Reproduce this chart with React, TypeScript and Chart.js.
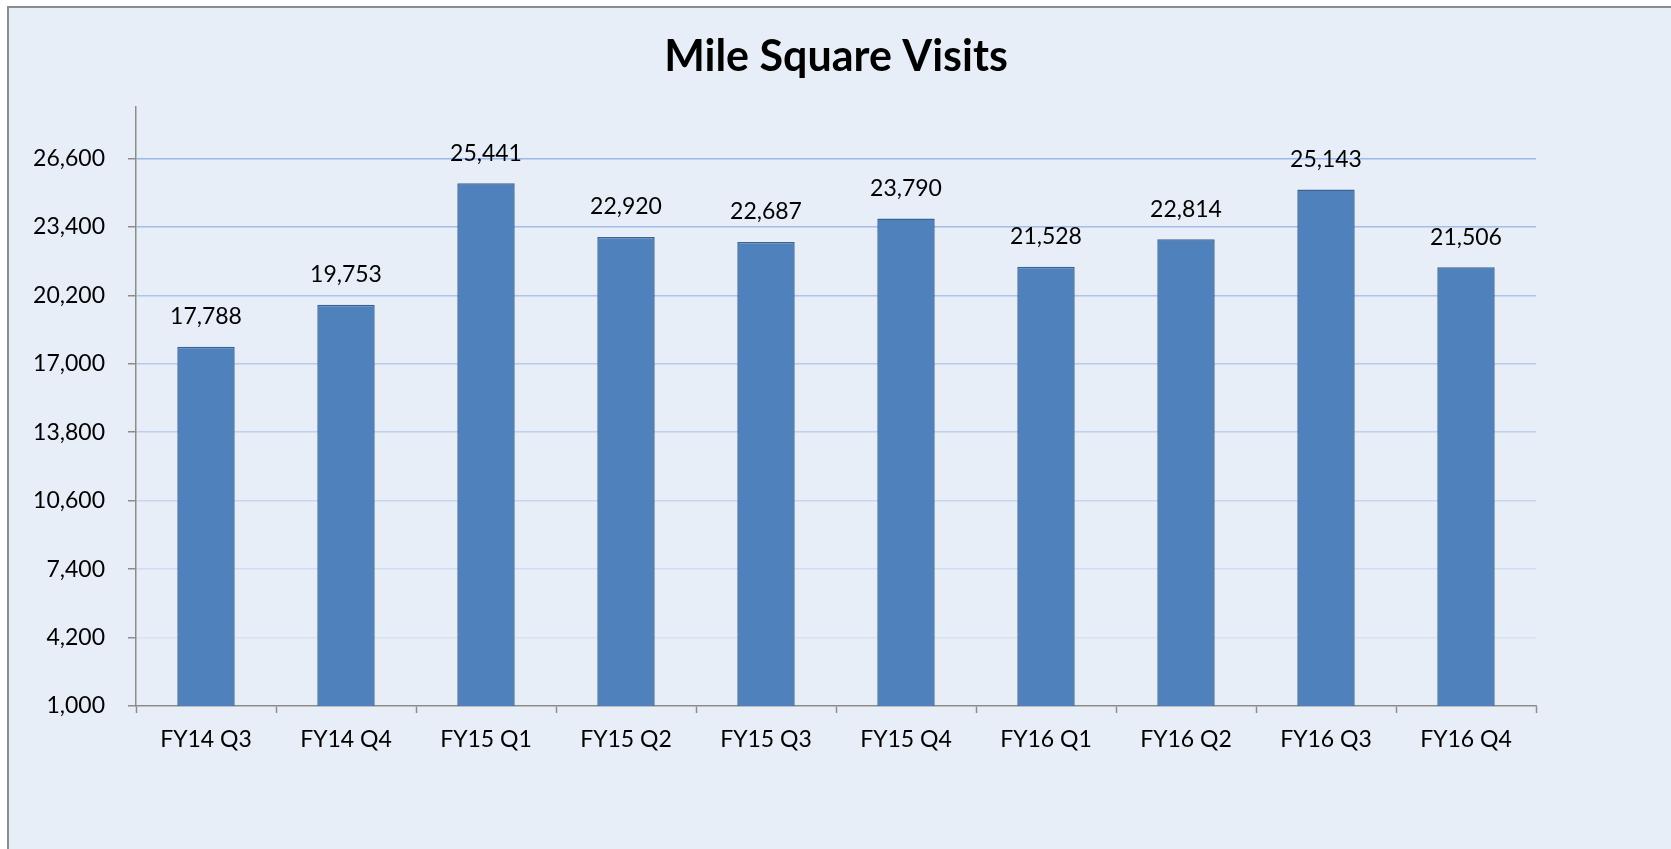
import React, { useEffect, useRef } from "react";
import { Chart, registerables } from "chart.js";

Chart.register(...registerables);

const categories = ["FY14 Q3", "FY14 Q4", "FY15 Q1", "FY15 Q2", "FY15 Q3", "FY15 Q4", "FY16 Q1", "FY16 Q2", "FY16 Q3", "FY16 Q4"];
const visits = [17788, 19753, 25441, 22920, 22687, 23790, 21528, 22814, 25143, 21506];
const yTickValues = [1000, 4200, 7400, 10600, 13800, 17000, 20200, 23400, 26600];
const yMin = 1000;
const yMax = 29000;
const chartTitle = "Mile Square Visits";

const FONT = "Lato, 'Noto Sans', sans-serif";

const fmt = (v: number) => v.toLocaleString("en-US");

const valueLabels = {
  id: "valueLabels",
  afterDatasetsDraw(chart: any) {
    const ctx = chart.ctx;
    const meta = chart.getDatasetMeta(0);
    const data = chart.data.datasets[0].data as number[];
    ctx.save();
    ctx.font = `23px ${FONT}`;
    ctx.fillStyle = "#000000";
    ctx.textAlign = "center";
    ctx.textBaseline = "middle";
    meta.data.forEach((bar: any, i: number) => {
      ctx.fillText(fmt(data[i]), bar.x, bar.y - 30);
    });
    ctx.restore();
  },
};

export default function App() {
  const ref = useRef<HTMLCanvasElement | null>(null);

  useEffect(() => {
    if (!ref.current) return;
    const chart = new Chart(ref.current, {
      type: "bar",
      data: {
        labels: categories,
        datasets: [
          {
            label: "Visits",
            data: visits,
            backgroundColor: "#4f81bd",
            borderColor: "#3a6394",
            borderWidth: { top: 1.5, left: 1.5, right: 1.5, bottom: 0 },
            borderSkipped: "bottom",
            barPercentage: 0.41,
            categoryPercentage: 1,
          },
        ],
      },
      options: {
        animation: false,
        responsive: false,
        maintainAspectRatio: false,
        layout: { padding: { left: 0, right: 135, top: 0, bottom: 0 } },
        plugins: {
          legend: { display: false },
          tooltip: { enabled: false },
          title: {
            display: true,
            text: chartTitle,
            fullSize: false,
            color: "#000000",
            font: { family: FONT, size: 43, weight: "bold", lineHeight: 1.2 },
            padding: { top: 31, bottom: 24.4 },
          },
        },
        scales: {
          x: {
            afterFit(scale: any) {
              scale.height = 143;
            },
            grid: {
              display: true,
              drawOnChartArea: false,
              drawTicks: true,
              tickLength: 7,
              tickColor: "#8c8c8c",
              tickWidth: 1.5,
              offset: true,
            },
            border: { display: true, color: "#8c8c8c", width: 1.5 },
            ticks: {
              color: "#000000",
              font: { family: FONT, size: 23 },
              padding: 13,
              maxRotation: 0,
            },
          },
          y: {
            min: yMin,
            max: yMax,
            afterFit(scale: any) {
              scale.width = 136;
            },
            afterBuildTicks(scale: any) {
              scale.ticks = yTickValues.map((v) => ({ value: v }));
            },
            grid: {
              drawTicks: true,
              tickLength: 8,
              tickColor: "#8c8c8c",
              tickWidth: 1.5,
              lineWidth: 1.5,
              color: (c: any) => {
                const v = c.tick ? c.tick.value : 0;
                if (v <= yMin) return "rgba(0,0,0,0)";
                const f = (v - yMin) / (26600 - yMin);
                const a = 0.06 + 0.55 * f;
                return `rgba(105, 150, 225, ${a.toFixed(3)})`;
              },
            },
            border: { display: true, color: "#8c8c8c", width: 1.5 },
            ticks: {
              color: "#000000",
              font: { family: FONT, size: 23 },
              padding: 23,
              callback: (v: any) => fmt(Number(v)),
            },
          },
        },
      },
      plugins: [valueLabels],
    });
    return () => chart.destroy();
  }, []);

  return (
    <div
      style={{
        position: "fixed",
        left: 0,
        top: 0,
        width: 1671,
        height: 849,
        overflow: "hidden",
        background: "#ffffff",
      }}
    >
      <div
        style={{
          position: "absolute",
          left: 7,
          top: 6,
          width: 1700,
          height: 900,
          borderLeft: "2px solid #8c8c8c",
          borderTop: "2px solid #8c8c8c",
          background: "#e8eef7",
        }}
      />
      <canvas
        ref={ref}
        width={1671}
        height={849}
        style={{ position: "absolute", left: 0, top: 0, width: 1671, height: 849 }}
      />
    </div>
  );
}
